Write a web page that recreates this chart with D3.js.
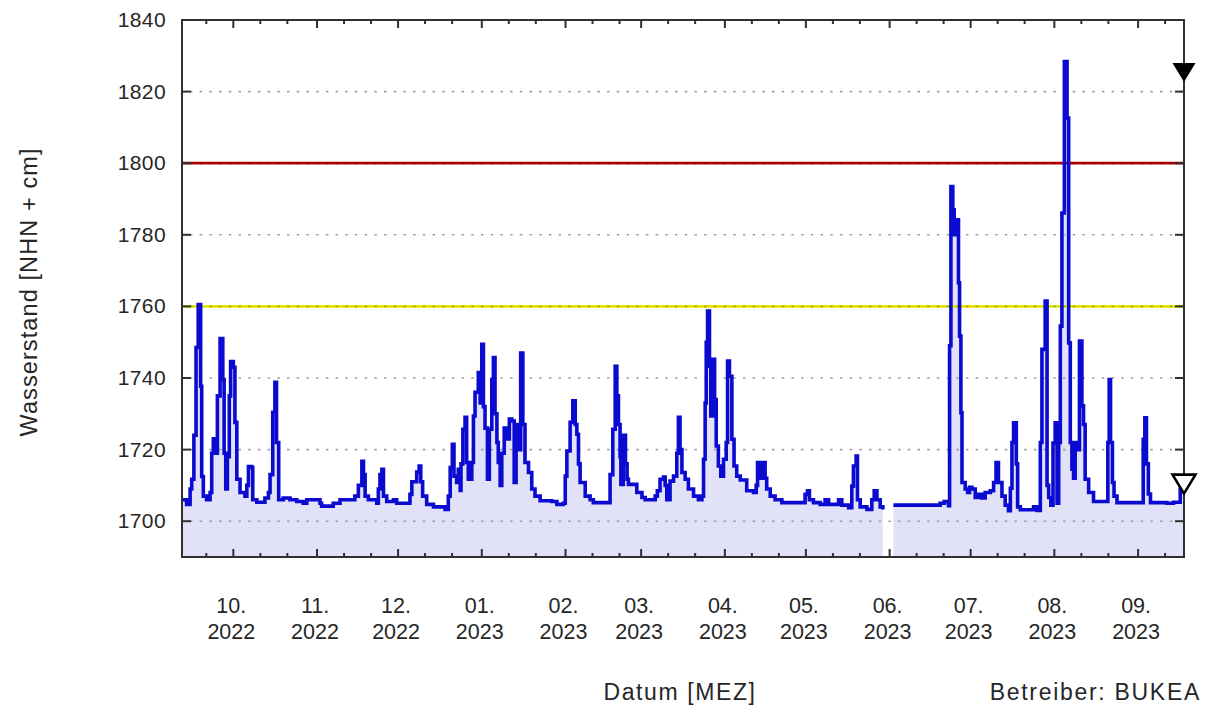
<!DOCTYPE html>
<html><head><meta charset="utf-8">
<script src="https://cdn.jsdelivr.net/npm/d3@7/dist/d3.min.js"></script>
<style>
body{margin:0;background:#fff}
svg{display:block}
text{font-family:"Liberation Sans",Arial,sans-serif;fill:#262626}
</style>
</head><body>
<svg id="chart" width="1210" height="709"></svg>
<script>
// ---- data ----
const startDate = "2022-09-12";
const endDate = "2023-09-18";
// days since startDate (step changes) and water level [NHN + cm]; null = data gap
const dayOffsets = [
0,1.7,3,3.6,4.4,5.2,6,6.9,7.3,7.9,9.1,10.4,11,11.6,12.8,13.1,14.1,15.1,15.6,16.2,16.8,17.5,18,19,19.6,20.3,21.5,23.3,24,24.6,25.8,26.2,27.7,30.7,32,32.6,33.6,34.4,35,35.8,37.5,40,42.5,44.9,46.2,51.1,51.7,56,58.5,64,65.3,66.6,67.2,67.8,69,72.1,72.7,73.3,74,74.6,75.8,78.3,79.5,
84.4,85.1,86.9,87.8,88.4,89.1,90.6,93.1,97.4,98.6,99.3,100.1,100.7,101.7,102.3,103,103.3,104,104.8,105.4,106,107.3,107.9,108.5,109.7,110.4,111,111.6,112.2,113.1,113.8,114.7,115.3,115.9,116.6,117.1,117.8,118.4,119.3,120.3,121.2,122.1,123,123.7,124.6,125.4,126.2,127,128.3,129.5,130.7,132.6,136.9,138.8,141.2,141.9,142.5,143.7,144.7,145.6,146.2,146.8,147.4,149.3,151.1,152.3,157.9,158.5,159.5,160.4,161,161.6,162.2,162.5,163.4,164.2,164.8,165.3,168.4,170.3,171.5,175.2,176,177,178.3,178.9,179.5,180.7,182,183.2,183.8,184.4,185.1,186.3,187.5,189.4,191.2,192.5,193.1,193.7,194.1,194.6,195.3,195.8,196.6,197.2,197.8,198.6,199.5,200.5,201.5,202,202.7,203.6,204.4,205.4,206.7,209.1,211.6,212.6,213.1,214.1,215.1,215.9,216.5,217.8,219.6,222.1,230.1,230.7,231.6,232.3,233.8,236.3,238.1,239.4,243.1,244.3,246.8,248,248.6,249.6,250.1,251.1,253.6,255.4,256.3,257.3,258.5,259.5,
259.9,
263.4,280.7,282.2,283.8,284.2,284.7,285.4,285.9,286.7,287.5,287.9,288.4,288.8,290,290.9,291.6,292.5,293.7,294.9,296.2,297.4,299.3,300.5,301.4,302.3,303.6,304.8,306,306.7,307.3,307.9,308.9,309.4,310.4,315.3,316.6,317.8,318.4,319.6,320.3,320.9,321.7,322.5,323.3,324,324.6,325.2,325.8,326.7,327.7,328.3,328.9,329.5,330.1,330.7,331.4,332.3,333.2,333.8,334.4,335.7,337.5,342.8,343.3,343.8,344.5,345.1,346.2,355.9,356.5,357.1,357.8,358.6,364.7,367.1,369.6,370.8,371
];
const levels = [
1706,1704.7,1709,1711.7,1724,1748.5,1760.5,1737.7,1712.5,1707,1706,1708,1719,1723,1719,1735,1751,1739.6,1719,1709,1718,1735,1744.6,1743,1727.6,1711.7,1708,1707,1710,1715.3,1715,1706,1705.3,1706.5,1708,1713,1730.4,1738.8,1722,1706,1706.5,1706,1705.5,1705,1706,1705,1704.2,1705,1706,1707,1710,1716.7,1713,1707,1706,1705,1709,1713,1714.5,1707,1705.5,1706,1705,
1707.5,1711,1713.7,1715.4,1711,1707,1704.7,1704,1703.3,1707,1715,1721.5,1712.6,1710.8,1714.5,1708.6,1716,1725.7,1729,1716.4,1711.7,1716.4,1729.4,1736,1741.5,1733,1749.4,1732,1726,1711.7,1725.7,1739.6,1745.7,1730,1722,1716.4,1710,1719,1726,1723,1728.5,1728,1710.8,1727,1720,1747,1727,1716.4,1713.6,1709,1707,1705.7,1705.5,1704.7,1705,1712.6,1719.6,1727.6,1733.6,1727,1724.3,1716,1710.8,1707,1706,1705.2,1705.2,1713,1725.7,1743.3,1735,1727,1718,1710.3,1724,1716,1711.7,1710.3,1708,1706.6,1706,1707,1708.5,1711.7,1712.3,1710,1706,1711.2,1712.6,1719,1729,1720,1713.6,1711.7,1709,1707,1706,1707,1717.3,1733,1750,1758.7,1743.3,1729.4,1745.2,1734,1721,1715.4,1712.6,1717.3,1722,1744.7,1740.5,1722.9,1715.4,1712.6,1711.5,1708.5,1708,1710,1716.4,1712,1716.4,1712,1709,1707,1706,1705.2,1705.2,1707.5,1708.5,1706,1705.2,1704.7,1706,1704.7,1706,1704.5,1703.8,1709.8,1715.4,1718.2,1706,1704,1703.3,1706,1708.5,1706,1704,1703.3,
null,
1704.5,1705,1705.5,1704.3,1749,1793.5,1787,1780,1784.2,1766.6,1751.7,1730.3,1710.8,1709,1708,1709.5,1709,1706.6,1707.5,1706.5,1708,1708.5,1710.8,1716.4,1710.8,1707,1704.5,1702.9,1709.2,1722,1727.5,1716,1704,1703.2,1704,1703,1722,1748,1761.5,1710,1706.6,1704.5,1721.8,1727.5,1705,1722,1754.5,1786.1,1828.4,1812.6,1749.8,1722,1714.5,1712,1722,1720,1750.3,1732.2,1727,1711.7,1708,1705.5,1722,1739.6,1722,1710.8,1707,1705.2,1722.9,1728.9,1716,1707.6,1705.2,1705,1705.3,1709,1711,1711
];
const yDomain = [1690, 1840];
const yTicks = [1700, 1720, 1740, 1760, 1780, 1800, 1820, 1840];
const thresholdLevels = [1760, 1800];
const monthTicks = ["2022-10-01","2022-11-01","2022-12-01","2023-01-01","2023-02-01","2023-03-01","2023-04-01","2023-05-01","2023-06-01","2023-07-01","2023-08-01","2023-09-01"];
const monthLabels = ["10.","11.","12.","01.","02.","03.","04.","05.","06.","07.","08.","09."];
const yearLabels = ["2022","2022","2022","2023","2023","2023","2023","2023","2023","2023","2023","2023"];
const maxMarkerLevel = 1825.5;
const currentMarkerLevel = 1710.5;
const yAxisTitle = "Wasserstand [NHN + cm]";
const xAxisTitle = "Datum [MEZ]";
const operatorText = "Betreiber: BUKEA";

// ---- drawing ----
const svg = d3.select("#chart");
const L = 182, R = 1184, T = 20, B = 557;
const parse = d3.utcParse("%Y-%m-%d");
const t0 = parse(startDate), t1 = parse(endDate);
const x = d3.scaleUtc().domain([t0, t1]).range([L, R]);
const y = d3.scaleLinear().domain(yDomain).range([B, T]);

const data = dayOffsets.map((d, i) => ({ t: new Date(+t0 + d * 86400000), v: levels[i] }));

const area = d3.area().defined(d => d.v != null).curve(d3.curveStepAfter)
  .x(d => x(d.t)).y0(y(yDomain[0])).y1(d => y(d.v));
const line = d3.line().defined(d => d.v != null).curve(d3.curveStepAfter)
  .x(d => x(d.t)).y(d => y(d.v));

svg.append("path").datum(data).attr("d", area).attr("fill", "#e1e1f7");

// thresholds
const thrColors = ["#e3e300", "#b00000"];
thresholdLevels.forEach((v, i) => {
  svg.append("line").attr("x1", L).attr("x2", R).attr("y1", y(v)).attr("y2", y(v))
    .attr("stroke", thrColors[i]).attr("stroke-width", 2.8);
});
// grid
svg.append("g").selectAll("line").data(yTicks.filter(v => v < yDomain[1])).join("line")
  .attr("x1", L + 8).attr("x2", R - 2).attr("y1", d => y(d)).attr("y2", d => y(d))
  .attr("stroke", d => d === 1800 ? "#700000" : (d === 1760 ? "#b0b000" : "#a0a0a0"))
  .attr("stroke-width", 1.6).attr("stroke-dasharray", "2.5,7.2");

// series
svg.append("path").datum(data).attr("d", line).attr("fill", "none")
  .attr("stroke", "#0a0ad0").attr("stroke-width", 3.6).attr("stroke-linejoin", "miter");

// frame
svg.append("rect").attr("x", L).attr("y", T).attr("width", R - L).attr("height", B - T)
  .attr("fill", "none").attr("stroke", "#303030").attr("stroke-width", 2);

// y ticks (left & right, inward)
const g = svg.append("g").attr("stroke", "#303030").attr("stroke-width", 2);
yTicks.forEach(v => {
  g.append("line").attr("x1", L).attr("x2", L + 9).attr("y1", y(v)).attr("y2", y(v));
  g.append("line").attr("x1", R - 9).attr("x2", R).attr("y1", y(v)).attr("y2", y(v));
});
// x ticks: 1st (major), 11th and 21st (minor), bottom and top
const dayTicks = d3.utcDay.range(t0, t1).filter(d => [1, 11, 21].includes(d.getUTCDate()));
dayTicks.forEach(d => {
  const len = d.getUTCDate() === 1 ? 8 : 4;
  g.append("line").attr("x1", x(d)).attr("x2", x(d)).attr("y1", B).attr("y2", B - len);
  g.append("line").attr("x1", x(d)).attr("x2", x(d)).attr("y1", T).attr("y2", T + len);
});

// y labels
svg.append("g").selectAll("text").data(yTicks).join("text")
  .attr("x", 166).attr("y", d => y(d) + 7).attr("text-anchor", "end")
  .attr("font-size", 21).attr("letter-spacing", 0.4).text(d => d);
// x labels
monthTicks.forEach((m, i) => {
  const px = x(parse(m)) - 2;
  svg.append("text").attr("x", px).attr("y", 613).attr("text-anchor", "middle")
    .attr("font-size", 21.5).text(monthLabels[i]);
  svg.append("text").attr("x", px).attr("y", 639).attr("text-anchor", "middle")
    .attr("font-size", 21.5).text(yearLabels[i]);
});
// titles
svg.append("text").attr("transform", `translate(37,292) rotate(-90)`)
  .attr("text-anchor", "middle").attr("font-size", 23.5).attr("letter-spacing", 1.1).text(yAxisTitle);
svg.append("text").attr("x", 680).attr("y", 700).attr("text-anchor", "middle")
  .attr("font-size", 23).attr("letter-spacing", 1.6).text(xAxisTitle);
svg.append("text").attr("x", 1201).attr("y", 700).attr("text-anchor", "end")
  .attr("font-size", 23).attr("letter-spacing", 1.7).text(operatorText);

// markers
function tri(cx, cy) {
  return `M${cx - 11.5},${cy - 9}L${cx + 11.5},${cy - 9}L${cx},${cy + 10}Z`;
}
svg.append("path").attr("d", tri(x(t1), y(maxMarkerLevel))).attr("fill", "#000");
svg.append("path").attr("d", tri(x(t1), y(currentMarkerLevel))).attr("fill", "#fff")
  .attr("stroke", "#000").attr("stroke-width", 2.6).attr("stroke-linejoin", "miter");
</script>
</body></html>
